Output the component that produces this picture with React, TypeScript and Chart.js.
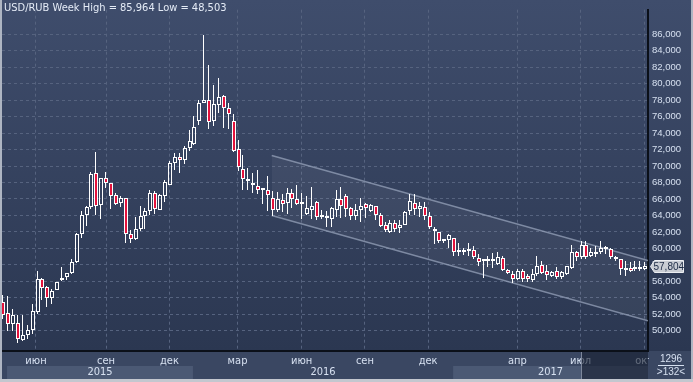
import React, { useEffect, useRef } from "react";
import { Chart, registerables } from "chart.js";

Chart.register(...registerables);

// Weekly USD/RUB candles (132 bars)
const opens = [
  53.44, 52.13, 50.83, 50.94, 48.86, 49.49, 50.04, 52.32, 56.3, 55.28,
  53.98, 54.92, 56.1, 56.5, 56.97, 58.31, 61.77, 64.06, 65.0, 69.13,
  65.3, 68.54, 67.95, 66.5, 65.5, 66.1, 61.77, 61.14, 62.4, 63.9,
  64.53, 66.7, 64.72, 66.36, 67.74, 70.42, 71.05, 70.77, 72.19, 72.66,
  75.5, 77.71, 77.98, 75.42, 77.47, 78.49, 77.08, 75.42, 72.07, 69.59,
  68.41, 67.97, 67.58, 67.1, 67.14, 66.16, 64.7, 65.83, 65.57, 66.67,
  66.04, 65.5, 64.2, 64.7, 65.69, 63.8, 63.99, 63.6, 64.66, 65.96,
  66.36, 64.9, 63.88, 64.7, 65.37, 64.58, 65.14, 64.0, 62.9, 62.04,
  63.13, 62.43, 62.9, 64.51, 65.57, 64.82, 64.98, 63.96, 62.38, 61.97,
  60.9, 61.0, 61.3, 59.6, 59.6, 59.7, 59.8, 58.85, 58.45, 58.48,
  58.48, 58.16, 58.87, 57.41, 56.9, 56.23, 57.3, 56.6, 56.15, 56.94,
  58.0, 57.2, 56.7, 57.3, 56.5, 56.9, 57.6, 59.5, 58.9, 60.45,
  59.1, 59.3, 59.6, 59.9, 59.9, 59.0, 58.75, 57.4, 57.6, 57.5,
  57.55, 57.55,
];
const highs = [
  54.3, 54.17, 52.6, 51.9, 51.93, 50.63, 53.23, 57.28, 56.42, 55.47,
  55.08, 55.94, 57.72, 57.05, 58.7, 61.85, 64.6, 65.2, 69.33, 71.69,
  68.54, 69.25, 67.95, 66.77, 66.38, 66.18, 62.24, 63.82, 65.2, 64.92,
  67.05, 66.97, 66.57, 68.33, 70.62, 71.56, 71.56, 72.43, 74.36, 76.09,
  78.06, 85.964, 82.24, 79.91, 80.74, 78.65, 77.67, 76.29, 73.14, 71.4,
  69.71, 69.2, 69.51, 67.35, 68.8, 66.95, 66.83, 66.55, 67.35, 67.22,
  67.74, 66.75, 66.36, 67.47, 65.77, 64.7, 64.55, 64.98, 67.15, 67.42,
  66.55, 64.98, 65.37, 66.08, 65.57, 65.37, 65.18, 64.27, 63.2, 63.4,
  63.4, 63.4, 64.6, 66.55, 66.55, 65.6, 65.6, 64.4, 62.65, 62.04,
  61.1, 61.77, 61.3, 60.6, 60.0, 60.6, 60.3, 59.3, 58.66, 59.07,
  59.46, 59.58, 59.07, 57.49, 57.3, 57.49, 57.49, 56.9, 57.49, 59.07,
  58.48, 58.0, 57.3, 57.7, 57.3, 57.9, 60.45, 59.66, 60.85, 60.93,
  60.0, 60.3, 60.93, 60.3, 60.1, 59.1, 58.75, 58.5, 58.4, 58.5,
  58.5, 58.3,
];
const lows = [
  51.4, 49.96, 49.96, 48.503, 48.74, 48.94, 49.57, 52.0, 53.78, 52.9,
  53.19, 54.9, 56.0, 56.2, 56.93, 58.2, 61.26, 62.7, 64.8, 64.0,
  63.6, 67.36, 64.8, 65.28, 65.0, 60.67, 60.67, 60.98, 62.17, 62.3,
  64.0, 64.2, 64.7, 65.65, 67.66, 69.51, 69.2, 70.22, 71.8, 72.58,
  74.95, 77.7, 74.51, 74.9, 76.41, 74.63, 74.51, 71.68, 69.43, 67.15,
  67.15, 66.67, 66.55, 65.42, 64.5, 63.92, 64.39, 64.47, 64.19, 64.86,
  65.26, 63.53, 64.07, 63.53, 63.4, 63.6, 62.62, 62.62, 63.8, 63.68,
  63.8, 63.4, 63.4, 63.2, 63.68, 64.39, 63.4, 62.54, 61.93, 61.85,
  62.0, 61.85, 62.8, 64.0, 64.0, 63.84, 63.5, 62.4, 60.53, 60.67,
  60.6, 60.1, 59.1, 59.1, 59.2, 59.1, 58.66, 57.8, 56.39, 57.77,
  57.57, 58.0, 57.3, 56.9, 55.8, 56.1, 55.94, 55.9, 55.94, 56.7,
  56.9, 56.1, 56.5, 56.3, 56.3, 56.8, 57.5, 58.5, 58.7, 58.7,
  58.9, 59.0, 59.3, 59.3, 58.7, 58.5, 56.8, 56.7, 57.1, 57.3,
  57.3, 57.35,
];
const closes = [
  51.9, 50.83, 51.93, 48.98, 49.45, 50.04, 52.36, 56.3, 55.16, 53.98,
  54.84, 55.94, 56.42, 56.97, 58.39, 61.69, 64.06, 65.08, 69.0, 65.2,
  68.54, 67.95, 66.38, 65.4, 66.06, 61.77, 61.18, 62.4, 63.98, 64.53,
  66.77, 64.8, 66.46, 68.05, 70.42, 71.05, 70.69, 72.23, 73.06, 74.79,
  77.67, 77.98, 75.34, 77.55, 78.38, 77.0, 76.33, 71.8, 69.9, 68.41,
  68.13, 67.66, 67.06, 67.06, 66.48, 64.7, 65.94, 65.44, 66.75, 65.96,
  65.34, 65.45, 64.87, 65.1, 63.8, 63.78, 63.68, 64.86, 65.96, 65.18,
  64.78, 63.92, 64.66, 65.1, 64.9, 65.29, 64.0, 62.7, 62.24, 63.03,
  62.4, 62.83, 64.47, 65.77, 64.78, 65.14, 63.88, 62.54, 62.07, 60.95,
  60.87, 61.57, 59.6, 59.58, 59.8, 59.72, 58.93, 58.34, 58.42, 58.5,
  58.5, 58.95, 57.41, 57.02, 56.23, 57.3, 56.23, 56.23, 56.94, 57.9,
  57.02, 56.8, 57.1, 56.5, 57.1, 57.8, 59.5, 58.9, 60.45, 58.9,
  59.5, 59.6, 60.0, 59.92, 59.0, 58.7, 57.5, 57.6, 57.3, 57.55,
  57.5, 57.804,
];

// Axis ticks / labels
const monthTickPositions = [6.67, 20.96, 33.9, 47.8, 60.9, 73.8, 86.7, 104.9, 117.8, 130.76];
const monthLabels = ["июн", "сен", "дек", "мар", "июн", "сен", "дек", "апр", "июл", "окт"];
const yearLabels = ["2015", "2016", "2017"];
const yearStarts = [0.76, 38.7, 91.8];
const yearEnds = [38.7, 91.8, 131.57];
const priceTicks = [50, 52, 54, 56, 58, 60, 62, 64, 66, 68, 70, 72, 74, 76, 78, 80, 82, 84, 86];

// Trend channel (week index, price)
const channelX = [54.78, 131.57];
const channelUpperY = [71.28, 58.52];
const channelLowerY = [64.0, 51.2];

const X_MIN = -0.265;
const X_MAX = 131.57;
const Y_MIN = 47.53;
const Y_MAX = 89.0;
const OVERLAY_START = 118.1;
const TOTAL_BARS = "1296";
const VISIBLE_BARS = ">132<";

const FONT = "'Liberation Sans Narrow', 'DejaVu Sans Condensed', 'Liberation Sans', sans-serif";
const NUM_FONT = "'Liberation Sans', Arial, sans-serif";
const LABEL = "#d6e0f0";
const RED = "#e3123c";

const fmt = (v: number) => v.toFixed(3).replace(".", ",");

export default function App() {
  const ref = useRef<HTMLCanvasElement | null>(null);

  useEffect(() => {
    document.body.style.margin = "0";
    const canvas = ref.current;
    if (!canvas) return;
    const idx = opens.map((_, i) => i);

    const bodies = idx.map((i) => ({ x: i, y: [opens[i], closes[i]] }));
    const upperWicks = idx.map((i) => ({ x: i, y: [Math.max(opens[i], closes[i]), highs[i]] }));
    const lowerWicks = idx.map((i) => ({ x: i, y: [lows[i], Math.min(opens[i], closes[i])] }));
    const bodyColors = idx.map((i) => (closes[i] < opens[i] ? RED : "rgba(0,0,0,0)"));

    const hi = Math.max(...highs);
    const lo = Math.min(...lows);
    const title = `USD/RUB Week High = ${fmt(hi)} Low = ${fmt(lo)}`;
    const last = closes[closes.length - 1];

    // snap candle elements (positions computed by the scales) to the pixel grid
    const snapPlugin = {
      id: "snap",
      beforeDatasetsDraw(chart: any) {
        const xs = chart.scales.x;
        [0, 1, 2].forEach((di) => {
          const meta = chart.getDatasetMeta(di);
          meta.data.forEach((el: any, i: number) => {
            const cx = Math.round(xs.getPixelForValue(i));
            el.x = di === 0 ? cx : cx - 0.5;
            let top = Math.round(Math.min(el.y, el.base));
            let bot = Math.round(Math.max(el.y, el.base));
            if (di === 0 && bot - top < 2) bot = top + 2;
            el.y = top;
            el.base = bot;
          });
        });
      },
    };

    const framePlugin = {
      id: "frame",
      beforeDraw(chart: any) {
        const { ctx, width, height, chartArea, scales } = chart;
        const xs = scales.x;
        ctx.save();
        const g = ctx.createLinearGradient(0, 0, 0, chartArea.bottom);
        g.addColorStop(0, "#3f4d6c");
        g.addColorStop(1, "#2b3751");
        ctx.fillStyle = g;
        ctx.fillRect(0, 0, width, chartArea.bottom);
        ctx.fillStyle = "#3a4762";
        ctx.fillRect(0, chartArea.bottom, width, height - chartArea.bottom);
        ctx.fillStyle = "#4b5974";
        for (let k = 0; k < yearLabels.length; k++) {
          const a = xs.getPixelForValue(yearStarts[k]);
          const b = xs.getPixelForValue(yearEnds[k]);
          if (k % 2 === 0) ctx.fillRect(a, 366, b - a, 13);
        }
        ctx.restore();
      },
      afterDraw(chart: any) {
        const { ctx, width, height, chartArea, scales } = chart;
        const xs = scales.x;
        const ys = scales.y;
        ctx.save();
        // year labels
        ctx.font = `11px ${FONT}`;
        ctx.fillStyle = LABEL;
        ctx.textAlign = "center";
        ctx.textBaseline = "middle";
        for (let k = 0; k < yearLabels.length; k++) {
          const a = xs.getPixelForValue(yearStarts[k]);
          const b = xs.getPixelForValue(yearEnds[k]);
          ctx.fillText(yearLabels[k], (a + b) / 2, 372.5);
        }
        // scroll overlay
        const ox = Math.round(xs.getPixelForValue(OVERLAY_START));
        ctx.fillStyle = "rgba(22,30,46,0.6)";
        ctx.fillRect(ox, chartArea.bottom + 1, chartArea.right - ox, 379 - chartArea.bottom - 1);
        ctx.fillStyle = "#7d879b";
        ctx.fillRect(ox - 1, chartArea.bottom + 1, 1, 379 - chartArea.bottom - 1);
        // price label
        const py = Math.round(ys.getPixelForValue(last)) + 0.5;
        const px = chartArea.right + 2.5;
        ctx.beginPath();
        ctx.moveTo(px, py);
        ctx.lineTo(px + 4, py - 6);
        ctx.lineTo(px + 33, py - 6);
        ctx.lineTo(px + 33, py + 6);
        ctx.lineTo(px + 4, py + 6);
        ctx.closePath();
        ctx.fillStyle = "#c9cdd4";
        ctx.fill();
        ctx.strokeStyle = "#eceef2";
        ctx.lineWidth = 1;
        ctx.stroke();
        ctx.font = `10px ${NUM_FONT}`;
        ctx.fillStyle = "#1d2b45";
        ctx.textAlign = "left";
        ctx.fillText(fmt(last), px + 3, py + 0.5);
        // corner box
        ctx.fillStyle = "#3a4762";
        ctx.fillRect(chartArea.right + 1, chartArea.bottom + 1, width - chartArea.right - 3, 379 - chartArea.bottom - 1);
        ctx.fillStyle = LABEL;
        ctx.textAlign = "center";
        ctx.fillText(TOTAL_BARS, 671, 359.5);
        ctx.fillText(VISIBLE_BARS, 671, 372);
        ctx.fillRect(658, 365, 26, 1);
        // frame strips
        ctx.fillStyle = "#aeb5c2";
        ctx.fillRect(0, 0, 2, height);
        ctx.fillRect(width - 2, 0, 2, height);
        ctx.fillStyle = "#c3c7cf";
        ctx.fillRect(0, 379, width, height - 379);
        // title
        ctx.font = `11px ${FONT}`;
        ctx.fillStyle = "#e4ebf6";
        ctx.textAlign = "left";
        ctx.fillText(title, 4, 8);
        ctx.restore();
      },
    };

    const chart = new Chart(canvas, {
      type: "bar",
      data: {
        datasets: [
          {
            type: "bar",
            data: bodies as any,
            backgroundColor: bodyColors,
            borderColor: "#ffffff",
            borderWidth: 1,
            borderSkipped: false,
            barThickness: 4,
            minBarLength: 2,
            grouped: false,
            inflateAmount: 0,
            order: 0,
          } as any,
          {
            type: "bar",
            data: upperWicks as any,
            backgroundColor: "#ffffff",
            borderWidth: 0,
            barThickness: 1,
            grouped: false,
            inflateAmount: 0,
            order: 1,
          } as any,
          {
            type: "bar",
            data: lowerWicks as any,
            backgroundColor: "#ffffff",
            borderWidth: 0,
            barThickness: 1,
            grouped: false,
            inflateAmount: 0,
            order: 1,
          } as any,
          {
            type: "line",
            data: channelX.map((x, k) => ({ x, y: channelUpperY[k] })),
            borderColor: "rgba(150,162,186,0.75)",
            borderWidth: 1.5,
            pointRadius: 0,
            fill: false,
            order: 5,
          } as any,
          {
            type: "line",
            data: channelX.map((x, k) => ({ x, y: channelLowerY[k] })),
            borderColor: "rgba(150,162,186,0.75)",
            borderWidth: 1.5,
            pointRadius: 0,
            fill: "-1",
            backgroundColor: "rgba(255,255,255,0.05)",
            order: 5,
          } as any,
        ],
      },
      options: {
        responsive: false,
        devicePixelRatio: 1,
        animation: false,
        events: [],
        layout: { padding: { left: 2, top: 0, right: 0, bottom: 0 } },
        plugins: { legend: { display: false }, tooltip: { enabled: false }, title: { display: false } },
        scales: {
          x: {
            type: "linear",
            min: X_MIN,
            max: X_MAX,
            offset: false,
            afterBuildTicks: (s: any) => {
              s.ticks = monthTickPositions.map((v) => ({ value: v }));
            },
            afterFit: (s: any) => {
              s.height = 31;
            },
            ticks: {
              autoSkip: false,
              maxRotation: 0,
              color: LABEL,
              padding: 4,
              font: { size: 11, family: FONT },
              callback: (_v: any, i: number) => monthLabels[i],
            },
            grid: { color: "#56637f", drawTicks: false, offset: false, lineWidth: 1 },
            border: { display: true, color: "#0b1019", width: 2, dash: [3, 3] },
          },
          y: {
            type: "linear",
            position: "right",
            min: Y_MIN,
            max: Y_MAX,
            beginAtZero: false,
            afterBuildTicks: (s: any) => {
              s.ticks = priceTicks.map((v) => ({ value: v }));
            },
            afterFit: (s: any) => {
              s.width = 45;
            },
            ticks: {
              color: LABEL,
              padding: 4,
              font: { size: 9.5, family: NUM_FONT },
              callback: (v: any) => fmt(Number(v)),
            },
            grid: { color: "#56637f", drawTicks: false, lineWidth: 1 },
            border: { display: true, color: "#0b1019", width: 2, dash: [3, 3] },
          },
        },
      } as any,
      plugins: [snapPlugin, framePlugin],
    });

    return () => chart.destroy();
  }, []);

  return (
    <div style={{ position: "absolute", left: 0, top: 0, width: 693, height: 382 }}>
      <canvas ref={ref} width={693} height={382} style={{ display: "block", width: 693, height: 382 }} />
    </div>
  );
}
